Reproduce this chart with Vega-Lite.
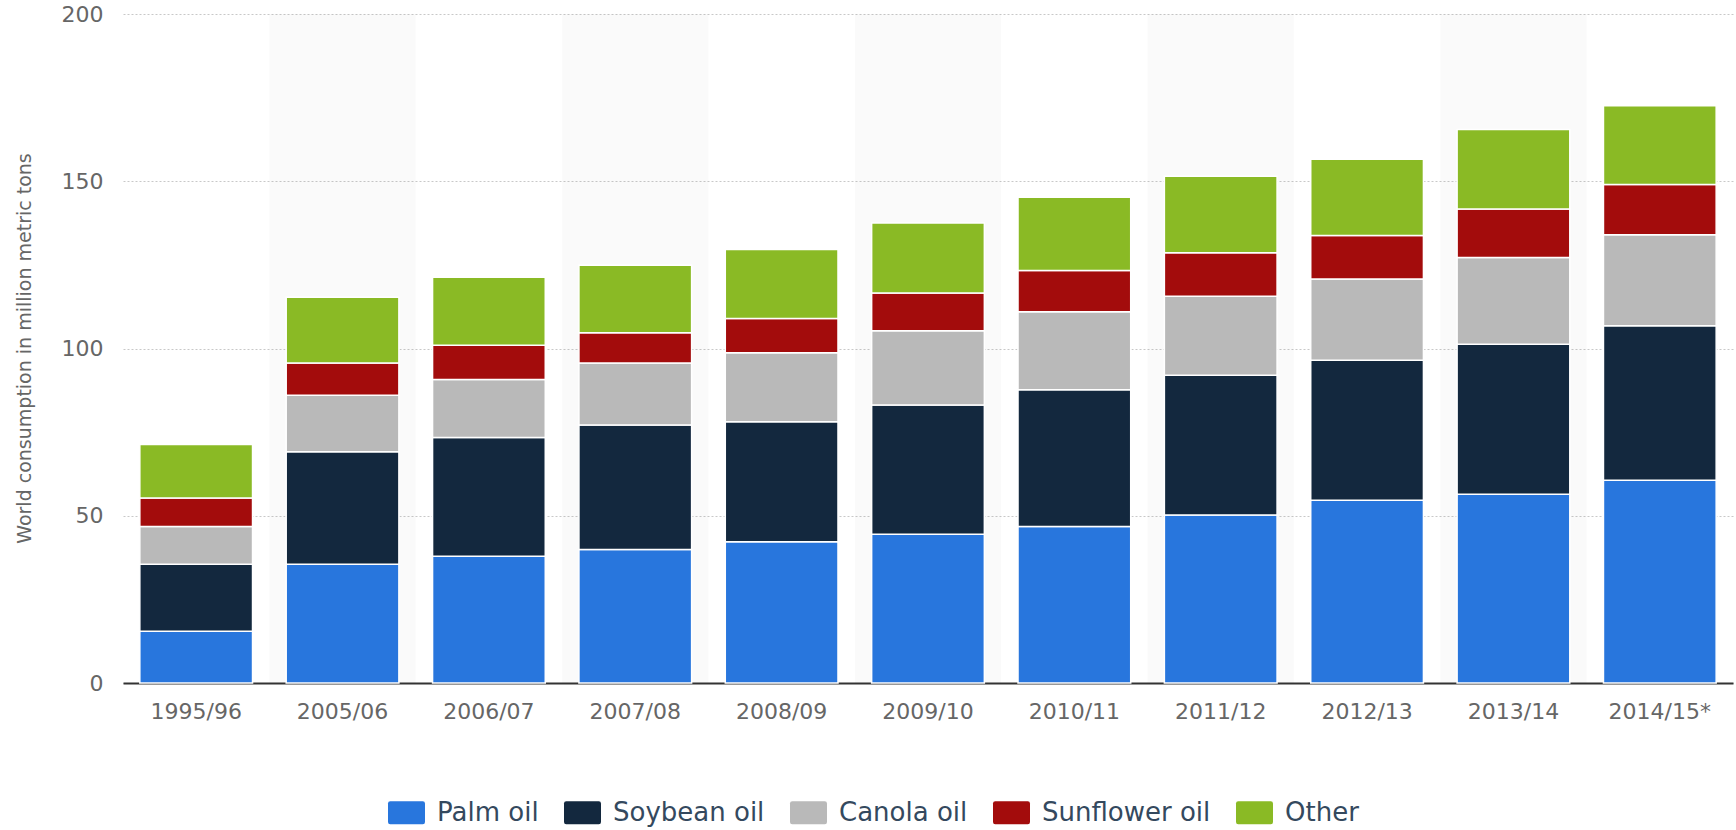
{
  "$schema": "https://vega.github.io/schema/vega-lite/v6.json",
  "width": 1610,
  "height": 669,
  "autosize": {"type": "none"},
  "padding": {"left": 123, "top": 14, "right": 3, "bottom": 147},
  "background": "white",
  "config": {"view": {"stroke": null}, "font": "DejaVu Sans"},
  "data": {"values": [
    {"season": "1995/96", "oil": "Palm oil", "value": 15.5},
    {"season": "1995/96", "oil": "Soybean oil", "value": 20.0},
    {"season": "1995/96", "oil": "Canola oil", "value": 11.3},
    {"season": "1995/96", "oil": "Sunflower oil", "value": 8.5},
    {"season": "1995/96", "oil": "Other", "value": 16.0},
    {"season": "2005/06", "oil": "Palm oil", "value": 35.5},
    {"season": "2005/06", "oil": "Soybean oil", "value": 33.6},
    {"season": "2005/06", "oil": "Canola oil", "value": 16.9},
    {"season": "2005/06", "oil": "Sunflower oil", "value": 9.7},
    {"season": "2005/06", "oil": "Other", "value": 19.6},
    {"season": "2006/07", "oil": "Palm oil", "value": 37.9},
    {"season": "2006/07", "oil": "Soybean oil", "value": 35.5},
    {"season": "2006/07", "oil": "Canola oil", "value": 17.3},
    {"season": "2006/07", "oil": "Sunflower oil", "value": 10.3},
    {"season": "2006/07", "oil": "Other", "value": 20.3},
    {"season": "2007/08", "oil": "Palm oil", "value": 39.9},
    {"season": "2007/08", "oil": "Soybean oil", "value": 37.2},
    {"season": "2007/08", "oil": "Canola oil", "value": 18.6},
    {"season": "2007/08", "oil": "Sunflower oil", "value": 9.0},
    {"season": "2007/08", "oil": "Other", "value": 20.2},
    {"season": "2008/09", "oil": "Palm oil", "value": 42.2},
    {"season": "2008/09", "oil": "Soybean oil", "value": 35.9},
    {"season": "2008/09", "oil": "Canola oil", "value": 20.6},
    {"season": "2008/09", "oil": "Sunflower oil", "value": 10.3},
    {"season": "2008/09", "oil": "Other", "value": 20.6},
    {"season": "2009/10", "oil": "Palm oil", "value": 44.5},
    {"season": "2009/10", "oil": "Soybean oil", "value": 38.6},
    {"season": "2009/10", "oil": "Canola oil", "value": 22.2},
    {"season": "2009/10", "oil": "Sunflower oil", "value": 11.3},
    {"season": "2009/10", "oil": "Other", "value": 20.9},
    {"season": "2010/11", "oil": "Palm oil", "value": 46.8},
    {"season": "2010/11", "oil": "Soybean oil", "value": 40.9},
    {"season": "2010/11", "oil": "Canola oil", "value": 23.3},
    {"season": "2010/11", "oil": "Sunflower oil", "value": 12.3},
    {"season": "2010/11", "oil": "Other", "value": 21.9},
    {"season": "2011/12", "oil": "Palm oil", "value": 50.2},
    {"season": "2011/12", "oil": "Soybean oil", "value": 41.8},
    {"season": "2011/12", "oil": "Canola oil", "value": 23.6},
    {"season": "2011/12", "oil": "Sunflower oil", "value": 13.0},
    {"season": "2011/12", "oil": "Other", "value": 22.9},
    {"season": "2012/13", "oil": "Palm oil", "value": 54.6},
    {"season": "2012/13", "oil": "Soybean oil", "value": 41.9},
    {"season": "2012/13", "oil": "Canola oil", "value": 24.3},
    {"season": "2012/13", "oil": "Sunflower oil", "value": 13.0},
    {"season": "2012/13", "oil": "Other", "value": 22.8},
    {"season": "2013/14", "oil": "Palm oil", "value": 56.4},
    {"season": "2013/14", "oil": "Soybean oil", "value": 44.9},
    {"season": "2013/14", "oil": "Canola oil", "value": 25.9},
    {"season": "2013/14", "oil": "Sunflower oil", "value": 14.5},
    {"season": "2013/14", "oil": "Other", "value": 23.8},
    {"season": "2014/15*", "oil": "Palm oil", "value": 60.6},
    {"season": "2014/15*", "oil": "Soybean oil", "value": 46.2},
    {"season": "2014/15*", "oil": "Canola oil", "value": 27.2},
    {"season": "2014/15*", "oil": "Sunflower oil", "value": 15.0},
    {"season": "2014/15*", "oil": "Other", "value": 23.6}
  ]},
  "encoding": {
    "x": {
      "field": "season", "type": "nominal",
      "sort": ["1995/96", "2005/06", "2006/07", "2007/08", "2008/09", "2009/10", "2010/11", "2011/12", "2012/13", "2013/14", "2014/15*"],
      "scale": {"paddingInner": 0.23, "paddingOuter": 0.115},
      "axis": {"title": null, "labelAngle": 0, "labelFontSize": 22, "labelColor": "#666666", "labelPadding": 18, "ticks": false, "domainColor": "#333333", "domainWidth": 2, "grid": false}
    }
  },
  "layer": [
    {
      "transform": [
        {"filter": {"field": "season", "oneOf": ["2005/06", "2007/08", "2009/10", "2011/12", "2013/14"]}},
        {"filter": "datum.oil === 'Palm oil'"}
      ],
      "mark": {"type": "bar", "fill": "#000000", "fillOpacity": 0.02, "width": {"band": 1.2987}},
      "encoding": {
        "y": {"datum": 200, "type": "quantitative"},
        "y2": {"datum": 0}
      }
    },
    {
      "transform": [
        {"calculate": "indexof(['Palm oil','Soybean oil','Canola oil','Sunflower oil','Other'], datum.oil)", "as": "stackOrder"}
      ],
      "mark": {"type": "bar", "stroke": "white", "strokeWidth": 1.5},
      "encoding": {
        "y": {
          "field": "value", "type": "quantitative", "stack": "zero",
          "scale": {"domain": [0, 200]},
          "axis": {
            "title": "World consumption in million metric tons",
            "titleFontSize": 19, "titleFontWeight": "normal", "titleColor": "#666666",
            "titleX": -93, "titleY": 334, "titleAngle": -90, "titleBaseline": "alphabetic", "titleAlign": "center",
            "values": [0, 50, 100, 150, 200],
            "labelFontSize": 22, "labelColor": "#666666", "labelPadding": 20,
            "ticks": false, "domain": false,
            "grid": true, "gridColor": "#c8c8c8", "gridDash": [2, 2], "gridWidth": 1
          }
        },
        "color": {
          "field": "oil", "type": "nominal",
          "scale": {
            "domain": ["Palm oil", "Soybean oil", "Canola oil", "Sunflower oil", "Other"],
            "range": ["#2876dd", "#13283e", "#b9b9b9", "#a30c0c", "#8aba25"]
          },
          "legend": {
            "orient": "none", "legendX": 265, "legendY": 780, "direction": "horizontal",
            "title": null, "padding": 0,
            "symbolType": "M-0.88,-0.62L0.88,-0.62Q1,-0.62 1,-0.5L1,0.5Q1,0.62 0.88,0.62L-0.88,0.62Q-1,0.62 -1,0.5L-1,-0.5Q-1,-0.62 -0.88,-0.62Z",
            "symbolSize": 1369, "symbolStrokeWidth": 0, "symbolOpacity": 1,
            "labelFontSize": 26, "labelLimit": 400, "labelColor": "#34495e", "labelOffset": 12, "columnPadding": 25
          }
        },
        "order": {"field": "stackOrder", "type": "quantitative"}
      }
    }
  ]
}
